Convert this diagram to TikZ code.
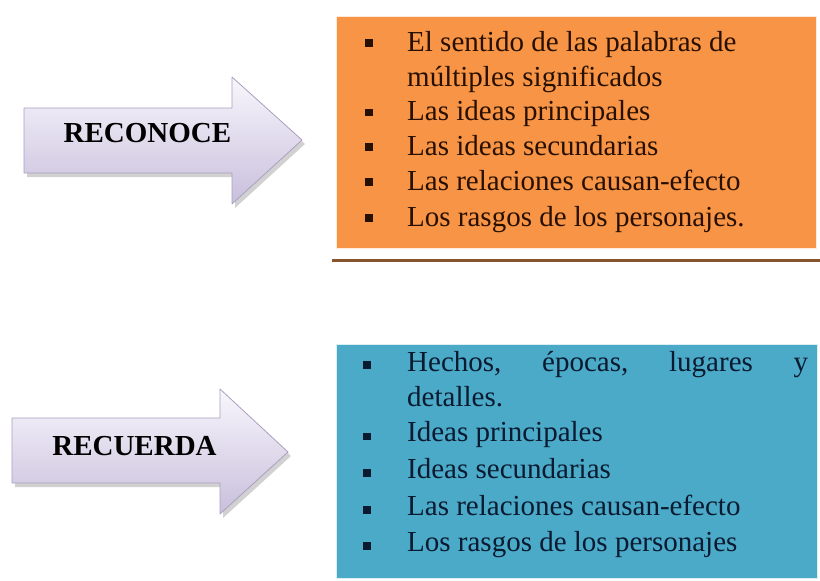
\documentclass[tikz,border=0pt]{standalone}
\usepackage{fontspec}
\setmainfont{Liberation Serif}
\definecolor{boxorange}{RGB}{247,148,70}
\definecolor{boxaqua}{RGB}{75,170,200}
\definecolor{lineBrown}{RGB}{135,85,45}
\definecolor{txtBrown}{RGB}{40,16,0}
\definecolor{txtNavy}{RGB}{10,26,48}
\definecolor{arrowTop}{RGB}{248,246,252}
\definecolor{arrowBot}{RGB}{200,191,220}
\definecolor{arrowEdge}{RGB}{170,160,190}
\tikzset{
  arrowbody/.style={top color=arrowTop, bottom color=arrowBot, draw=arrowEdge, line width=0.8pt, line join=round},
  arrowshade/.style={fill=black, opacity=0.18},
  arrowlabel/.style={anchor=base, font=\fontsize{29}{35}\selectfont\bfseries, text=black, inner sep=0pt},
  listbox/.style={anchor=north west, inner sep=0pt, draw=white!80!#1, line width=0.6pt, fill=#1},
  itemtext/.style={anchor=base west, inner sep=0pt, font=\fontsize{29}{35}\selectfont},
  bulletsq/.style={fill=#1, minimum size=7.5pt, inner sep=0pt}
}
\begin{document}
\begin{tikzpicture}[x=1pt,y=-1pt]
\useasboundingbox (0,0) rectangle (820,581);
% RECONOCE
\path[arrowshade,shift={(3,4)}] (24,108) -- (232,108) -- (232,77) -- (302,140) -- (232,204) -- (232,173) -- (24,173) -- cycle;
\path[arrowbody] (24,108) -- (232,108) -- (232,77) -- (302,140) -- (232,204) -- (232,173) -- (24,173) -- cycle;
\node[arrowlabel] (reconoce) at (147.5,142.7) {RECONOCE};
\node[listbox=boxorange, minimum width=480pt, minimum height=232pt] (reconoceBox) at (336,16) {};
\draw[lineBrown, line width=3pt] ([xshift=-4pt,yshift=-12pt]reconoceBox.south west) -- ([xshift=4pt,yshift=-12pt]reconoceBox.south east);
\node[bulletsq=txtBrown] (rb1) at (369,43) {};
\node[itemtext, text=txtBrown] (rt1) at (407,51.7) {El sentido de las palabras de};
\node[itemtext, text=txtBrown] (rt2) at (407,86.2) {múltiples significados};
\node[bulletsq=txtBrown] (rb3) at (369,112.5) {};
\node[itemtext, text=txtBrown] (rt3) at (407,120.7) {Las ideas principales};
\node[bulletsq=txtBrown] (rb4) at (369,147) {};
\node[itemtext, text=txtBrown] (rt4) at (407,155.7) {Las ideas secundarias};
\node[bulletsq=txtBrown] (rb5) at (369,182) {};
\node[itemtext, text=txtBrown] (rt5) at (407,190.7) {Las relaciones causan-efecto};
\node[bulletsq=txtBrown] (rb6) at (369,218) {};
\node[itemtext, text=txtBrown] (rt6) at (407,226.7) {Los rasgos de los personajes.};
% RECUERDA
\path[arrowshade,shift={(3,4)}] (12,418) -- (220,418) -- (220,389) -- (288,452) -- (220,514) -- (220,483) -- (12,483) -- cycle;
\path[arrowbody] (12,418) -- (220,418) -- (220,389) -- (288,452) -- (220,514) -- (220,483) -- (12,483) -- cycle;
\node[arrowlabel] (recuerda) at (134.5,455) {RECUERDA};
\node[listbox=boxaqua, minimum width=481pt, minimum height=234pt] (recuerdaBox) at (336,344) {};
\node[bulletsq=txtNavy] (cb1) at (367,365) {};
\node[itemtext, text=txtNavy] (ct1) at (407,371.7) {\makebox[401pt][s]{Hechos,\hfill épocas,\hfill lugares\hfill y}};
\node[itemtext, text=txtNavy] (ct2) at (407,406.7) {detalles.};
\node[bulletsq=txtNavy] (cb3) at (367,436.7) {};
\node[itemtext, text=txtNavy] (ct3) at (407,441.7) {Ideas principales};
\node[bulletsq=txtNavy] (cb4) at (367,473) {};
\node[itemtext, text=txtNavy] (ct4) at (407,478) {Ideas secundarias};
\node[bulletsq=txtNavy] (cb5) at (367,510) {};
\node[itemtext, text=txtNavy] (ct5) at (407,515.7) {Las relaciones causan-efecto};
\node[bulletsq=txtNavy] (cb6) at (367,546) {};
\node[itemtext, text=txtNavy] (ct6) at (407,551.7) {Los rasgos de los personajes};
\end{tikzpicture}
\end{document}
